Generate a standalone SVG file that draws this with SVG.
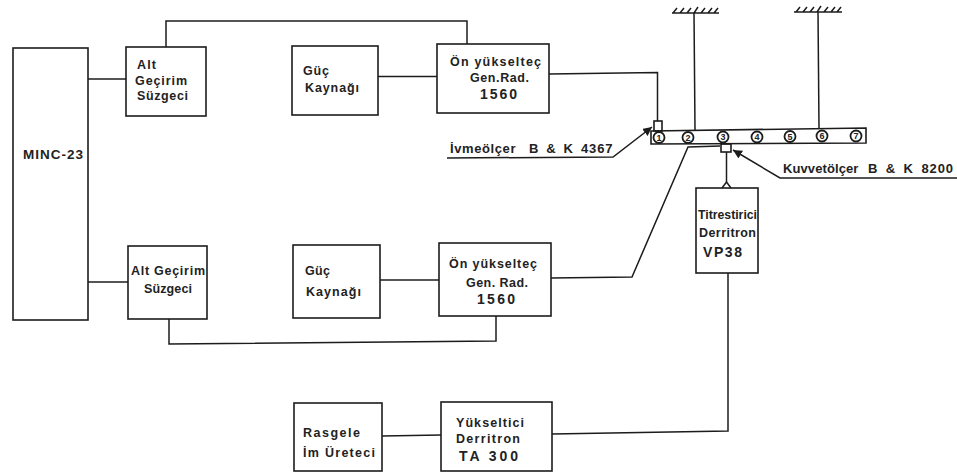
<svg xmlns="http://www.w3.org/2000/svg" width="957" height="475" viewBox="0 0 957 475">
<style>
rect,polygon{fill:none;stroke:#1c1c1c;stroke-width:1.6}
path{fill:none;stroke:#1c1c1c;stroke-width:1.5}
circle{fill:none;stroke:#1c1c1c;stroke-width:1.8}
text{font-family:"Liberation Sans",Arial,sans-serif;font-size:12.5px;font-weight:700;fill:#222}
.n{font-size:9px}
.w{font-size:13px}
.b{font-size:14px}
</style>
<defs><marker id="a" markerWidth="7" markerHeight="6" refX="6" refY="3" orient="auto"><path d="M0 0L6 3L0 6Z" style="fill:#1c1c1c;stroke:none"/></marker></defs>
<rect width="957" height="475" style="fill:#fff;stroke:none"/>
<g id="connectors">
<path d="M88 79H126"/>
<path d="M88 282H128"/>
<path d="M166 47V21H467V44"/>
<path d="M378 76.500H437"/>
<path d="M380 280H439"/>
<path d="M549 74L657.500 72.500V121"/>
<path d="M551 278L632 277L688 147L720 146"/>
<path d="M496 316V341L169 344V319"/>
<path d="M382 436L441 435"/>
<path d="M552 434L728 431V273"/>
<path d="M726.500 152V182"/>
<path d="M694 13L695 130"/>
<path d="M818 12L819 128"/>
<path d="M447 158L613 157L652 127" marker-end="url(#a)"/>
<path d="M957 178H780L733 150" marker-end="url(#a)"/>
</g>
<g id="minc"><rect x="13" y="48" width="75" height="272"/><text x="23" y="159" style="font-size:13.5px" textLength="60">MINC-23</text></g>
<g id="alt1"><rect x="126" y="47" width="80" height="69"/><text x="137" y="69" textLength="19">Alt</text><text x="135" y="85" textLength="52">Geçirim</text><text x="137" y="100" textLength="51">Süzgeci</text></g>
<g id="guc1"><rect x="292" y="46" width="86" height="69"/><text x="303" y="75" textLength="26">Güç</text><text x="305" y="92" textLength="54">Kaynağı</text></g>
<g id="on1"><rect x="437" y="44" width="112" height="69"/><text x="450" y="66" textLength="91">Ön yükselteç</text><text x="470" y="82" textLength="59">Gen.Rad.</text><text class="b" x="480" y="99" textLength="37">1560</text></g>
<g id="alt2"><rect x="128" y="246" width="79" height="73"/><text x="131" y="275" textLength="74">Alt Geçirim</text><text x="144" y="293" textLength="48">Süzgeci</text></g>
<g id="guc2"><rect x="293" y="245" width="87" height="73"/><text x="305" y="275" textLength="25">Güç</text><text x="306" y="296" textLength="55">Kaynağı</text></g>
<g id="on2"><rect x="439" y="243" width="112" height="73"/><text x="449" y="268" textLength="88">Ön yükselteç</text><text x="466" y="287" textLength="62">Gen. Rad.</text><text class="b" x="477" y="304" textLength="38">1560</text></g>
<g id="rasgele"><rect x="294" y="403" width="88" height="68"/><text x="303" y="437" textLength="57">Rasgele</text><text x="303" y="457" textLength="72">İm Üreteci</text></g>
<g id="yuks"><rect x="441" y="402" width="111" height="69"/><text x="456" y="427" textLength="68">Yükseltici</text><text x="456" y="443" textLength="64">Derritron</text><text class="b" x="459" y="461" textLength="59">TA 300</text></g>
<g id="titres"><rect x="696" y="188" width="62" height="85"/><text x="698" y="219" textLength="59" lengthAdjust="spacingAndGlyphs">Titrestirici</text><text x="699" y="237" textLength="57">Derritron</text><text class="b" x="703" y="257" textLength="39">VP38</text><path d="M722 188L726.500 182L731 188"/></g>
<g id="beam"><polygon points="651,131 866,128 866,143 651,144"/>
<circle cx="659" cy="137.500" r="5.500"/><text class="n" x="656.500" y="140.700">1</text>
<circle cx="688" cy="137.500" r="5.500"/><text class="n" x="685.500" y="140.700">2</text>
<circle cx="723" cy="137" r="5.500"/><text class="n" x="720.500" y="140.200">3</text>
<circle cx="757" cy="137" r="5.500"/><text class="n" x="754.500" y="140.200">4</text>
<circle cx="790" cy="136.500" r="5.500"/><text class="n" x="787.500" y="139.700">5</text>
<circle cx="822" cy="136" r="5.500"/><text class="n" x="819.500" y="139.200">6</text>
<circle cx="856" cy="136" r="5.500"/><text class="n" x="853.500" y="139.200">7</text></g>
<g id="ivme"><rect x="654" y="121" width="8" height="10"/><text class="w" x="450" y="153" letter-spacing="0.600">İvmeölçer<tspan x="529" letter-spacing="0.900" word-spacing="2.500">B &amp; K 4367</tspan></text></g>
<g id="kuvvet"><rect x="721" y="144" width="10" height="8"/><text class="w" x="783" y="173" letter-spacing="0.100">Kuvvetölçer<tspan x="868" letter-spacing="0.900" word-spacing="3">B &amp; K 8200</tspan></text></g>
<g id="zemin"><path d="M672 13H719M794 12H842M673 13l4-5M680 13l4-5M687 13l4-5M694 13l4-6M701 13l4-5M708 13l4-5M714 13l4-5M796 12l4-5M803 12l4-5M810 12l4-5M817 12l4-6M824 12l4-5M831 12l4-5M837 12l4-5"/></g>
</svg>
